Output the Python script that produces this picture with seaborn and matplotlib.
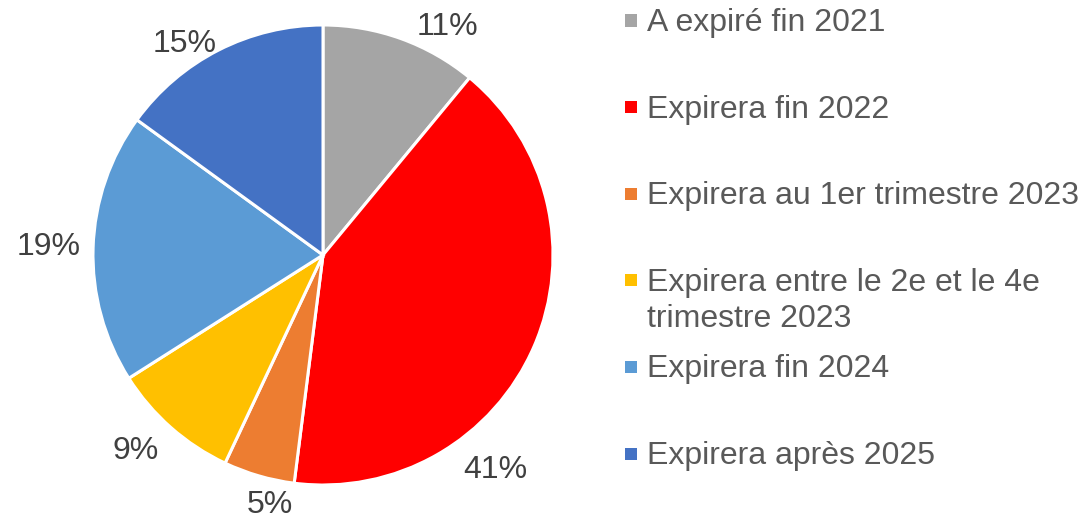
import numpy as np
import matplotlib.pyplot as plt
from matplotlib.patches import Rectangle
import seaborn as sns

# Données
categories = [
    "A expiré fin 2021",
    "Expirera fin 2022",
    "Expirera au 1er trimestre 2023",
    "Expirera entre le 2e et le 4e\ntrimestre 2023",
    "Expirera fin 2024",
    "Expirera après 2025",
]
parts = [11, 41, 5, 9, 19, 15]
couleurs = ["#A5A5A5", "#FF0000", "#ED7D31", "#FFC000", "#5B9BD5", "#4472C4"]

sns.set_theme(style="white")
plt.rcParams["font.family"] = ["Liberation Sans", "DejaVu Sans"]

W, H = 1081, 523
fig = plt.figure(figsize=(W / 100, H / 100), dpi=100)

# camembert : centre (323, 255), rayon 230 px
cx, cy, r = 323, 255, 230
ax = fig.add_axes([(cx - r) / W, (H - cy - r) / H, 2 * r / W, 2 * r / H])
wedges, _ = ax.pie(parts, colors=couleurs, startangle=90, counterclock=False,
                   wedgeprops=dict(edgecolor="white", linewidth=2.2))
ax.set_xlim(-1, 1)
ax.set_ylim(-1, 1)
ax.set_aspect("equal")
ax.axis("off")

# étiquettes de pourcentage (placement "meilleur ajustement" comme Excel)
angles_etiq = [61.6, -51.0, -102.1, -134.2, 177.6, 122.8]
dist = [1.142, 1.188, 1.10, 1.171, 1.193, 1.107]
demi_cap = 11 / r
for i, w in enumerate(wedges):
    a = np.deg2rad(angles_etiq[i])
    ax.text(dist[i] * np.cos(a), dist[i] * np.sin(a) - demi_cap, f"{parts[i]}%",
            ha="center", va="baseline", fontsize=23, color="#404040",
            clip_on=False)

# légende dessinée à la main
def fx(px):
    return px / W

def fy(py):
    return 1 - py / H

for i, (lab, col) in enumerate(zip(categories, couleurs)):
    y = 20.5 + 86.6 * i
    fig.patches.append(Rectangle((fx(625), fy(y + 6)), 12 / W, 12 / H,
                                 facecolor=col, edgecolor="none",
                                 transform=fig.transFigure, figure=fig))
    for k, ligne in enumerate(lab.split("\n")):
        fig.text(fx(647), fy(y + 10.5 + 36 * k), ligne, ha="left",
                 va="baseline", fontsize=23, color="#595959")

fig.savefig("out.png", dpi=100)
